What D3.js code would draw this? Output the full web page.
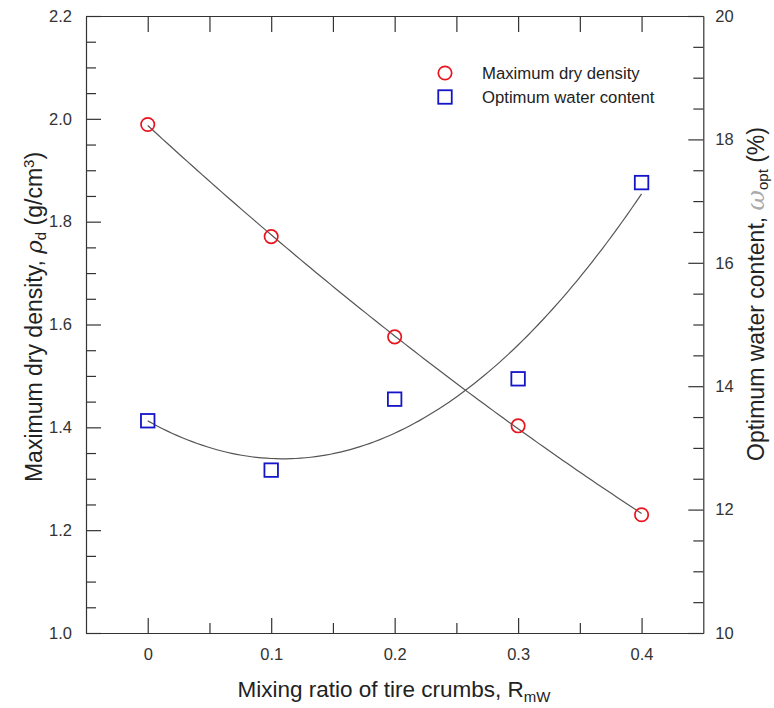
<!DOCTYPE html>
<html>
<head>
<meta charset="utf-8">
<script src="https://cdn.jsdelivr.net/npm/d3@7"></script>
<style>
  html, body { margin: 0; padding: 0; background: #fff; }
  svg { display: block; font-family: "Liberation Sans", Arial, sans-serif; }
</style>
</head>
<body>
<svg id="chart" width="774" height="708"></svg>
<script>
// Mixing ratio of tire crumbs and the compaction results
const ratio = [0, 0.1, 0.2, 0.3, 0.4];
const dryDensity = [1.989, 1.771, 1.576, 1.403, 1.230];     // g/cm3
const waterContent = [13.44, 12.64, 13.79, 14.12, 17.30];   // %

const xTicks = [0, 0.1, 0.2, 0.3, 0.4];
const xMinorTicks = [0.05, 0.15, 0.25, 0.35];
const xTopTicks = [0, 0.05, 0.1, 0.15, 0.2, 0.25, 0.3, 0.35, 0.4];
const densityTicks = [1.0, 1.2, 1.4, 1.6, 1.8, 2.0, 2.2];
const waterTicks = [10, 12, 14, 16, 18, 20];

const legendLabels = ["Maximum dry density", "Optimum water content"];

const svg = d3.select("#chart");
const plotLeft = 86, plotRight = 703.3, plotTop = 16, plotBottom = 633;

const x = d3.scaleLinear().domain([-0.05, 0.45]).range([plotLeft, plotRight]);
const yL = d3.scaleLinear().domain([1.0, 2.2]).range([plotBottom, plotTop]);
const yR = d3.scaleLinear().domain([10, 20]).range([plotBottom, plotTop]);

const axisColor = "#333";
const major = 15, minor = 10;

function styleAxis(g) {
  g.selectAll("path, line").attr("stroke", axisColor).attr("stroke-width", 1.2);
  g.selectAll("text").attr("fill", "#333").style("font-size", "16.5px")
    .style("font-family", "'Liberation Sans', Arial, sans-serif");
}

// bottom axis
svg.append("g").attr("transform", `translate(0,${plotBottom})`)
  .call(d3.axisBottom(x).tickValues(xTicks).tickSize(-major).tickSizeOuter(0).tickPadding(15)
        .tickFormat(d => d === 0 ? "0" : d3.format(".1f")(d)))
  .call(styleAxis);
svg.append("g").attr("transform", `translate(0,${plotBottom})`)
  .call(d3.axisBottom(x).tickValues(xMinorTicks).tickSize(-minor).tickSizeOuter(0).tickFormat(""))
  .call(g => g.select(".domain").remove())
  .call(styleAxis);

// top axis
svg.append("g").attr("transform", `translate(0,${plotTop})`)
  .call(d3.axisTop(x).tickValues(xTopTicks).tickSize(-16).tickSizeOuter(0).tickFormat(""))
  .call(styleAxis);

// left axis: maximum dry density
const yLMinor = d3.range(1.0, 2.2001, 0.05).filter(v => Math.abs(v * 5 - Math.round(v * 5)) > 1e-6);
svg.append("g").attr("transform", `translate(${plotLeft},0)`)
  .call(d3.axisLeft(yL).tickValues(densityTicks).tickSize(-major).tickSizeOuter(0).tickPadding(14)
        .tickFormat(d3.format(".1f")))
  .call(styleAxis);
svg.append("g").attr("transform", `translate(${plotLeft},0)`)
  .call(d3.axisLeft(yL).tickValues(yLMinor).tickSize(-minor).tickSizeOuter(0).tickFormat(""))
  .call(g => g.select(".domain").remove())
  .call(styleAxis);

// right axis: optimum water content
const yRMinor = d3.range(10, 20.001, 0.5).filter(v => Math.abs(v / 2 - Math.round(v / 2)) > 1e-6);
svg.append("g").attr("transform", `translate(${plotRight},0)`)
  .call(d3.axisRight(yR).tickValues(waterTicks).tickSize(-major).tickSizeOuter(0).tickPadding(12))
  .call(styleAxis);
svg.append("g").attr("transform", `translate(${plotRight},0)`)
  .call(d3.axisRight(yR).tickValues(yRMinor).tickSize(-minor).tickSizeOuter(0).tickFormat(""))
  .call(g => g.select(".domain").remove())
  .call(styleAxis);

// axis titles
const xTitle = svg.append("text").attr("x", 394).attr("y", 697)
  .attr("text-anchor", "middle").attr("fill", "#222").style("font-size", "22.5px");
xTitle.append("tspan").text("Mixing ratio of tire crumbs, R");
xTitle.append("tspan").attr("dy", 5).style("font-size", "15px").text("mW");

const yLTitle = svg.append("text")
  .attr("transform", "translate(42,317) rotate(-90)")
  .attr("text-anchor", "middle").attr("fill", "#222").style("font-size", "23px");
yLTitle.append("tspan").text("Maximum dry density, ");
yLTitle.append("tspan").style("font-style", "italic").style("font-family", "'DejaVu Serif', serif").text("ρ");
yLTitle.append("tspan").attr("dy", 4).style("font-size", "15px").text("d");
yLTitle.append("tspan").attr("dy", -4).text(" (g/cm");
yLTitle.append("tspan").attr("dy", -8).style("font-size", "15px").text("3");
yLTitle.append("tspan").attr("dy", 8).text(")");

const yRTitle = svg.append("text")
  .attr("transform", "translate(764,294) rotate(-90)")
  .attr("text-anchor", "middle").attr("fill", "#222").style("font-size", "23px");
yRTitle.append("tspan").text("Optimum water content, ");
yRTitle.append("tspan").attr("fill", "#aaa").style("font-style", "italic").style("font-size", "25px")
  .style("font-family", "'DejaVu Serif', serif").text("ω");
yRTitle.append("tspan").attr("dy", 4).style("font-size", "15px").text("opt");
yRTitle.append("tspan").attr("dy", -4).text(" (%)");

// quadratic least-squares trend through each series
function quadFit(xs, ys) {
  const n = xs.length;
  const S = k => d3.sum(xs, v => Math.pow(v, k));
  const T = k => d3.sum(xs.map((v, i) => Math.pow(v, k) * ys[i]));
  const A = [[n, S(1), S(2)], [S(1), S(2), S(3)], [S(2), S(3), S(4)]];
  const b = [T(0), T(1), T(2)];
  for (let i = 0; i < 3; i++) {
    for (let j = i + 1; j < 3; j++) {
      const f = A[j][i] / A[i][i];
      for (let k = i; k < 3; k++) A[j][k] -= f * A[i][k];
      b[j] -= f * b[i];
    }
  }
  const c = [0, 0, 0];
  for (let i = 2; i >= 0; i--) {
    let s = b[i];
    for (let k = i + 1; k < 3; k++) s -= A[i][k] * c[k];
    c[i] = s / A[i][i];
  }
  return v => c[0] + c[1] * v + c[2] * v * v;
}

const fitD = quadFit(ratio, dryDensity);
const fitW = quadFit(ratio, waterContent);
const xs = d3.range(0, 0.40001, 0.004);

svg.append("path").datum(xs)
  .attr("d", d3.line().x(d => x(d)).y(d => yL(fitD(d))))
  .attr("fill", "none").attr("stroke", "#555").attr("stroke-width", 1.2);
svg.append("path").datum(xs)
  .attr("d", d3.line().x(d => x(d)).y(d => yR(fitW(d))))
  .attr("fill", "none").attr("stroke", "#555").attr("stroke-width", 1.2);

// markers
const red = "#e8141e", blue = "#1414c8";
const side = 13.5;

svg.append("g").selectAll("circle").data(ratio).join("circle")
  .attr("cx", (d, i) => x(d)).attr("cy", (d, i) => yL(dryDensity[i]))
  .attr("r", 6.7).attr("fill", "none").attr("stroke", red).attr("stroke-width", 1.7);

svg.append("g").selectAll("rect").data(ratio).join("rect")
  .attr("x", (d, i) => x(d) - side / 2).attr("y", (d, i) => yR(waterContent[i]) - side / 2)
  .attr("width", side).attr("height", side)
  .attr("fill", "none").attr("stroke", blue).attr("stroke-width", 1.8);

// legend
const lg = svg.append("g");
lg.append("circle").attr("cx", 445).attr("cy", 73).attr("r", 6.7)
  .attr("fill", "none").attr("stroke", red).attr("stroke-width", 1.7);
lg.append("rect").attr("x", 445 - side / 2).attr("y", 97 - side / 2).attr("width", side).attr("height", side)
  .attr("fill", "none").attr("stroke", blue).attr("stroke-width", 1.8);
lg.selectAll("text").data(legendLabels).join("text")
  .attr("x", 482).attr("y", (d, i) => 78.5 + i * 24)
  .attr("fill", "#222").style("font-size", "16.7px").text(d => d);
</script>
</body>
</html>
